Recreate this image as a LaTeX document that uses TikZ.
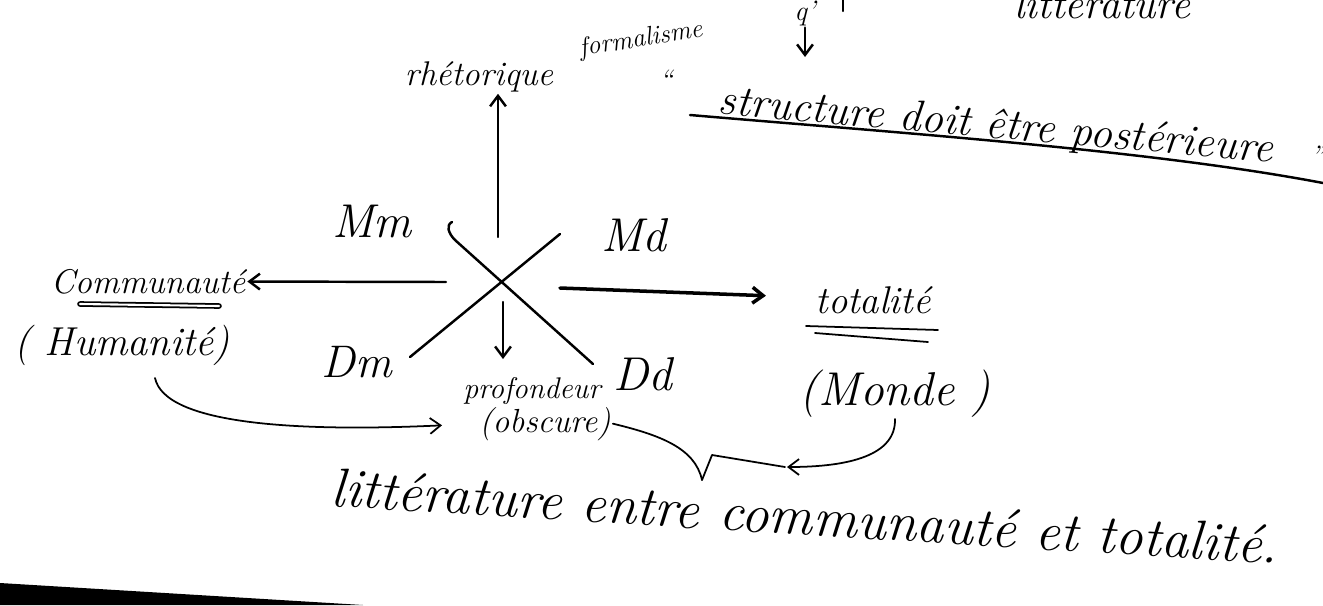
\documentclass[tikz,border=0pt]{standalone}
\usepackage{fontspec}
\usetikzlibrary{arrows.meta}
\newcommand{\penfont}[1]{\fontsize{#1}{#1}\selectfont\itshape}
\tikzset{
  pen/.style={line width=1.4pt, line cap=round, line join=round},
  thin pen/.style={line width=1pt, line cap=round, line join=round},
  arr/.style={pen, -{Straight Barb[length=6pt,width=9pt]}},
  hand/.style={inner sep=1pt},
}
\begin{document}
\begin{tikzpicture}[x=0.2mm, y=-0.2mm]
            \useasboundingbox (0,0) rectangle (1323,605);
            % top line, cut off by the page
            \node[hand, anchor=base west, font=\penfont{24}] (litt) at (1012,18) {littérature};
            \draw[pen] (843,0) -- (843,11);
            \node[hand, font=\penfont{16}] (q) at (805,13) {q'};
            \coordinate (q-end) at (805,57);
            \draw[arr] (q) -- (q-end);
%
            % rhetorique
            \node[hand, anchor=base, font=\penfont{19.5}] (rhet) at (479,85) {rhétorique};
            \node[hand, font=\penfont{15}, rotate=9] (form) at (641,40) {formalisme};
%
            % quotation
            \node[hand, font=\penfont{16}] (oq) at (666,80) {“};
            \node[hand, anchor=base, font=\penfont{25}, rotate=-5] (struct) at (995,138) {structure doit être postérieure};
            \node[hand, font=\penfont{16}] (cq) at (1317,156) {”};
            \draw[pen] (690,115) .. controls (900,133) and (1150,150) .. (1323,183);
%
            % cross
            \draw[pen] (593,364) -- (455,240) .. controls (448,233) and (446,225) .. (452,222);
            \draw[pen] (560,234) -- (410,357);
            \coordinate (x-up) at (498,237);
            \coordinate (x-left) at (446,282);
            \coordinate (x-right) at (560,288);
            \coordinate (x-down) at (503,302);
%
            % labels round the cross
            \node[hand, anchor=base, font=\penfont{27}] (mm) at (372,237) {Mm};
            \node[hand, anchor=base, font=\penfont{27}] (md) at (634,251) {Md};
            \node[hand, anchor=base, font=\penfont{26}] (dm) at (357,377) {Dm};
            \node[hand, anchor=base, font=\penfont{27}] (dd) at (643,390) {Dd};
            \node[hand, anchor=base, font=\penfont{17}] (prof) at (532,398) {profondeur};
            \node[hand, anchor=base, font=\penfont{19}] (obs) at (545,432) {(obscure)};
%
            % left and right
            \node[hand, anchor=base, font=\penfont{19.5}] (comm) at (148,293) {Communauté};
            \draw[thin pen, double, double distance=1.2pt] (80,304) -- (219,306);
            \node[hand, anchor=base, font=\penfont{23}] (hum) at (122,355) {( Humanité)};
            \node[hand, anchor=base, font=\penfont{22}] (tot) at (873,313) {totalité};
            \draw[thin pen] (806,326) -- (938,330);
            \draw[thin pen] (815,333) -- (928,342);
            \node[hand, anchor=base, font=\penfont{27}] (monde) at (895,405) {(Monde )};
%
            % arrows
            \draw[arr] (x-up) -- (rhet.south -| x-up);
            \draw[arr] (x-left) -- (comm);
            \draw[arr, line width=2pt, shorten >=27pt] (x-right) -- (tot);
            \draw[arr, shorten >=9pt] (x-down) -- (prof.north -| x-down);
            \coordinate (hum-out) at (155,378);
            \draw[thin pen, -{Straight Barb[length=6pt,width=9pt]}, shorten >=20pt] (hum-out) .. controls (165,425) and (300,432) .. (obs.west);
%
            % brace to the last line
            \coordinate (brace-tip) at (702,480);
            \draw[thin pen] (obs.east) .. controls (660,435) and (695,448) .. (brace-tip);
            \draw[thin pen] (brace-tip) -- (712,455) -- (785,467);
            \coordinate (brace-in) at (787,467);
            \draw[thin pen, -{Straight Barb[length=6pt,width=9pt]}] (monde.south) .. controls (896,455) and (850,467) .. (brace-in);
            \node[hand, anchor=base, font=\penfont{31.5}, rotate=-3.5] (sent) at (804,535) {littérature entre communauté et totalité.};
%
            % page edge
            \fill (0,583) -- (363,605) -- (0,605) -- cycle;
\end{tikzpicture}
\end{document}
